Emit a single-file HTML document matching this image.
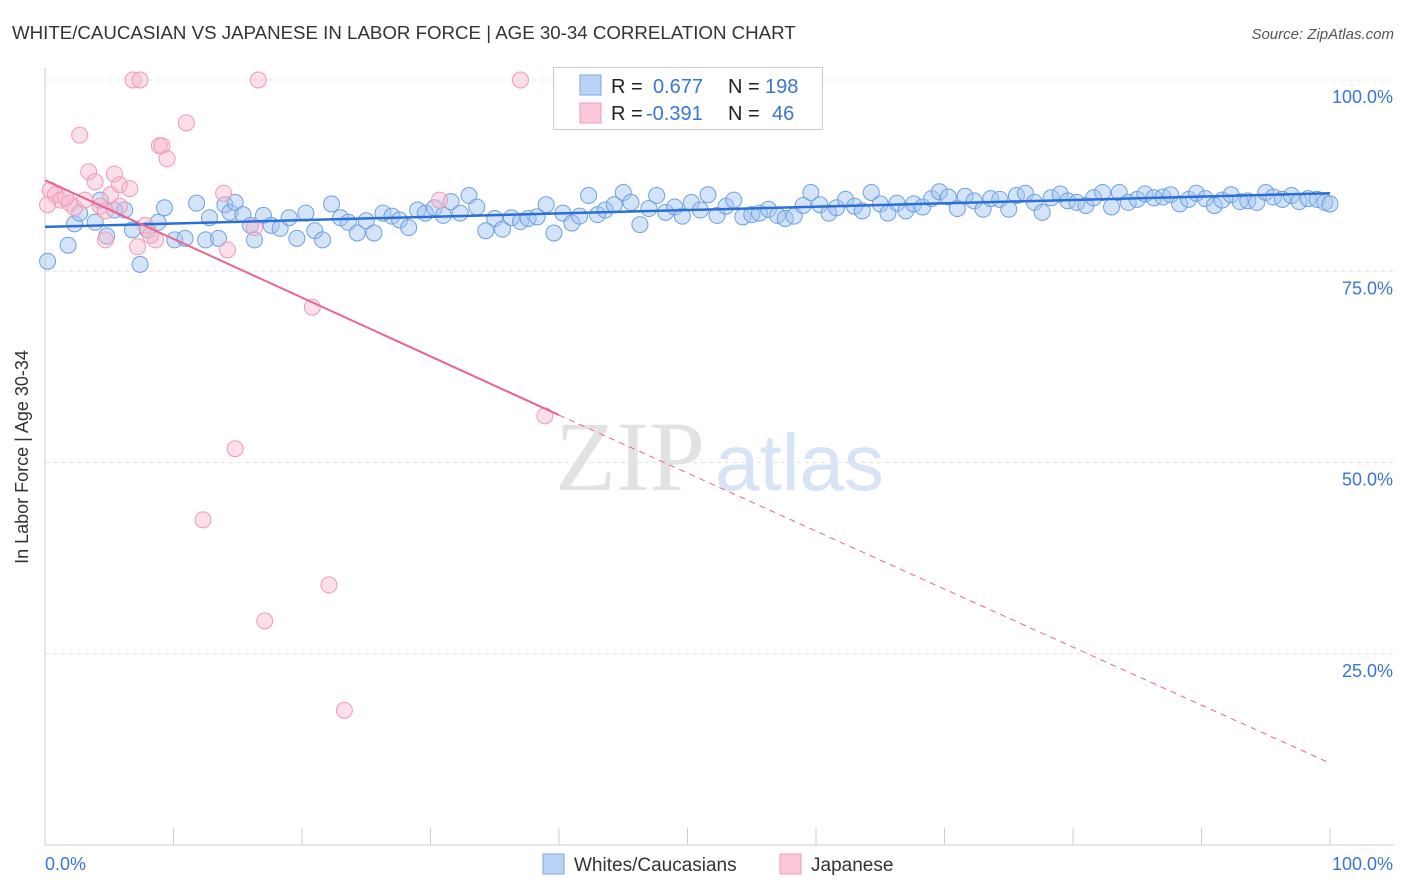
<!DOCTYPE html>
<html><head><meta charset="utf-8"><style>
body{margin:0;background:#fff;font-family:"Liberation Sans",sans-serif;}
svg{display:block}
</style></head><body>
<svg id="c" width="1406" height="892" xmlns="http://www.w3.org/2000/svg">
<text x="12" y="39" font-size="18.7" fill="#333">WHITE/CAUCASIAN VS JAPANESE IN LABOR FORCE | AGE 30-34 CORRELATION CHART</text>
<text x="1394" y="39" font-size="15" fill="#555" font-style="italic" text-anchor="end">Source: ZipAtlas.com</text>
<g>
<text x="555" y="490" font-size="100" font-family="Liberation Serif,serif" fill="#e2e2e2">ZIP</text>
<text x="715" y="490" font-size="80" fill="#d6e4f5">atlas</text>
</g>
<g id="grid"></g>
<g id="axes"></g>
<g id="marks"></g>
<text x="28" y="457" font-size="18" fill="#333" text-anchor="middle" transform="rotate(-90 28 457)">In Labor Force | Age 30-34</text>
<g>
<rect x="553.5" y="67.5" width="269" height="62" fill="#fff" stroke="#ccc"/>
<rect x="580" y="75" width="21" height="20" fill="#b8d3f5" stroke="#7aa7e6"/>
<rect x="580" y="103" width="21" height="20" fill="#fcc9d8" stroke="#f29ab6"/>
<text x="611" y="93" font-size="20" fill="#222">R = </text><text x="653" y="93" font-size="20" fill="#3a74d6">0.677</text>
<text x="728" y="93" font-size="20" fill="#222">N = </text><text x="765" y="93" font-size="20" fill="#3a74d6">198</text>
<text x="611" y="120" font-size="20" fill="#222">R = </text><text x="646" y="120" font-size="20" fill="#3a74d6">-0.391</text>
<text x="728" y="120" font-size="20" fill="#222">N = </text><text x="772" y="120" font-size="20" fill="#3a74d6">46</text>
</g>
<g>
<rect x="543" y="854" width="21" height="20" fill="#b8d3f5" stroke="#7aa7e6"/>
<text x="574" y="871" font-size="19" fill="#333">Whites/Caucasians</text>
<rect x="780" y="854" width="21" height="20" fill="#fcc9d8" stroke="#f29ab6"/>
<text x="811" y="871" font-size="19" fill="#333">Japanese</text>
</g>
</svg>
<script>
const yTicks=[25,50,75,100];
const yTickLabels=["25.0%","50.0%","75.0%","100.0%"];
const xTickLabels=["0.0%","100.0%"];
const blueX=[0.2,1.8,2.3,2.7,3.9,4.3,4.8,5.4,6.2,6.8,7.4,8.0,8.8,9.3,10.1,10.9,11.8,12.5,12.8,13.5,14.0,14.4,14.8,15.4,16.0,16.3,17.0,17.6,18.3,19.0,19.6,20.3,21.0,21.6,22.3,23.0,23.6,24.3,25.0,25.6,26.3,27.0,27.6,28.3,29.0,29.6,30.3,31.0,31.6,32.3,33.0,33.6,34.3,35.0,35.6,36.3,37.0,37.6,38.3,39.0,39.6,40.3,41.0,41.6,42.3,43.0,43.6,44.3,45.0,45.6,46.3,47.0,47.6,48.3,49.0,49.6,50.3,51.0,51.6,52.3,53.0,53.6,54.3,55.0,55.6,56.3,57.0,57.6,58.3,59.0,59.6,60.3,61.0,61.6,62.3,63.0,63.6,64.3,65.0,65.6,66.3,67.0,67.6,68.3,69.0,69.6,70.3,71.0,71.6,72.3,73.0,73.6,74.3,75.0,75.6,76.3,77.0,77.6,78.3,79.0,79.6,80.3,81.0,81.6,82.3,83.0,83.6,84.3,85.0,85.6,86.3,87.0,87.6,88.3,89.0,89.6,90.3,91.0,91.6,92.3,93.0,93.6,94.3,95.0,95.6,96.3,97.0,97.6,98.3,99.0,99.6,100.0];
const blueY=[76.3,78.4,81.2,82.6,81.4,84.3,79.6,83.0,83.0,80.4,75.9,80.4,81.4,83.3,79.1,79.3,83.9,79.1,82.0,79.3,83.7,82.7,84.0,82.4,81.0,79.1,82.3,81.0,80.6,82.0,79.3,82.6,80.3,79.1,83.8,82.0,81.4,80.0,81.6,80.0,82.6,82.2,81.7,80.7,83.0,82.6,83.3,82.3,84.1,82.6,84.9,83.4,80.3,81.9,80.5,82.0,81.5,81.9,82.1,83.7,80.0,82.6,81.3,82.2,84.9,82.4,83.0,83.7,85.3,84.0,81.1,83.2,84.9,82.7,83.4,82.2,84.0,83.0,85.0,82.3,83.5,84.3,82.1,82.4,82.6,83.1,82.3,81.9,82.2,83.6,85.3,83.7,82.6,83.3,84.4,83.5,82.9,85.3,83.8,82.6,83.9,82.9,83.8,83.4,84.5,85.4,84.7,83.2,84.8,84.2,83.1,84.5,84.4,83.1,84.9,85.2,84.0,82.7,84.6,85.1,84.2,84.0,83.6,84.6,85.3,83.4,85.3,84.0,84.4,85.1,84.6,84.7,85.0,83.8,84.4,85.2,84.5,83.6,84.3,85.0,84.1,84.2,84.0,85.3,84.7,84.4,84.9,84.1,84.5,84.4,84.0,83.8,83.4,82.6,83.4,84.0,86.0];
const pinkX=[6.85,7.4,16.6,37.0,2.7,11.0,8.9,9.1,9.5,3.4,5.4,3.9,5.8,6.6,13.9,0.4,0.8,1.2,0.2,1.9,2.3,4.3,4.7,7.8,8.6,7.2,4.7,14.2,16.3,30.7,20.8,38.9,14.8,12.3,22.1,17.1,23.3,1.6,3.1,5.8,5.1,8.2];
const pinkY=[100,100,100,100,92.8,94.4,91.4,91.4,89.7,88.0,87.7,86.7,86.3,85.8,85.2,85.6,85.0,84.3,83.7,83.9,83.3,83.5,82.9,81.0,79.1,78.2,79.1,77.8,80.7,84.3,70.3,56.1,51.8,42.5,34.0,29.3,17.6,84.6,84.3,83.5,85.0,79.7];
const blueTrend=[80.8,85.2];
const pinkTrend=[86.9,56.2,10.7];
const pinkSolidEnd=40;

const X0=45,X1=1330,Y0=845,YS=7.65;
const sx=v=>X0+(X1-X0)*v/100, sy=v=>Y0-v*YS;
const NS="http://www.w3.org/2000/svg";
function mk(tag,attrs,parent){const e=document.createElementNS(NS,tag);for(const k in attrs)e.setAttribute(k,attrs[k]);document.getElementById(parent).appendChild(e);return e;}
yTicks.forEach((t,i)=>{
  const g=mk('line',{x1:X0,x2:1394,y1:sy(t),y2:sy(t),stroke:'#e2e2e2','stroke-dasharray':'4 4'},'grid');
  
  
  const l=mk('text',{x:1393,y:sy(t)+23,'font-size':18,fill:'#3a74d6','text-anchor':'end'},'axes');
  l.textContent=yTickLabels[i];
  
  
});
const ya=mk('line',{x1:X0,x2:X0,y1:68,y2:Y0,stroke:'#ccc'},'axes');


const xa=mk('line',{x1:X0,x2:1394,y1:Y0,y2:Y0,stroke:'#ccc'},'axes');


for(let i=0;i<=10;i++){const t=mk('line',{x1:sx(i*10),x2:sx(i*10),y1:828,y2:Y0,stroke:'#ccc'},'axes');
  
  }
const xl0=mk('text',{x:45,y:870,'font-size':18,fill:'#3a74d6'},'axes');xl0.textContent=xTickLabels[0];


const xl1=mk('text',{x:1393,y:870,'font-size':18,fill:'#3a74d6','text-anchor':'end'},'axes');xl1.textContent=xTickLabels[1];


blueX.forEach((x,i)=>{const c=mk('circle',{cx:sx(x),cy:sy(blueY[i]),r:8,fill:'rgba(160,196,240,0.45)',stroke:'#6f9fe2','stroke-width':1},'marks');
  
  });
pinkX.forEach((x,i)=>{const c=mk('circle',{cx:sx(x),cy:sy(pinkY[i]),r:8,fill:'rgba(248,184,204,0.45)',stroke:'#f09ab5','stroke-width':1},'marks');
  
  });
const bt=mk('line',{x1:sx(0),y1:sy(blueTrend[0]),x2:sx(100),y2:sy(blueTrend[1]),stroke:'#2b6fd6','stroke-width':2.5},'marks');


const pt=mk('line',{x1:sx(0),y1:sy(pinkTrend[0]),x2:sx(pinkSolidEnd),y2:sy(pinkTrend[1]),stroke:'#e8648e','stroke-width':2},'marks');


const pd=mk('line',{x1:sx(pinkSolidEnd),y1:sy(pinkTrend[1]),x2:sx(100),y2:sy(pinkTrend[2]),stroke:'#e8648e','stroke-width':1,'stroke-dasharray':'6 5'},'marks');


</script>
</body></html>
